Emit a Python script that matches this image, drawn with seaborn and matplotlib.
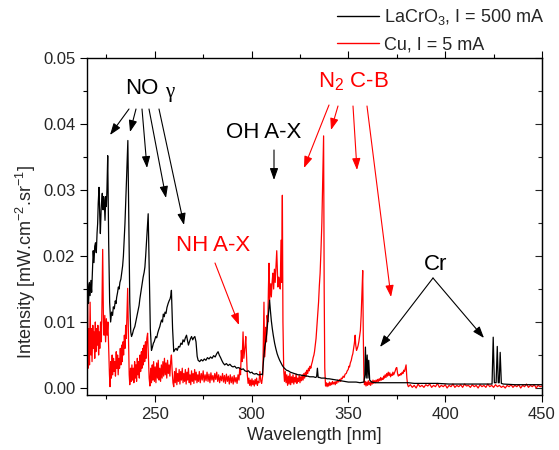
import matplotlib
matplotlib.use("Agg")
import matplotlib.pyplot as plt
from matplotlib.ticker import MultipleLocator, FormatStrFormatter
from matplotlib.lines import Line2D
import seaborn as sns
import pandas as pd

# ---------------- data (wavelength nm, intensity mW.cm-2.sr-1) ----------------
lacro3_points = [
(215.0,0.0135),(215.4,0.0158),(215.8,0.0128),(216.2,0.0160),(216.6,0.0140),(217.0,0.0163),(217.4,0.0145),(217.8,0.0175),
(218.2,0.0208),(218.6,0.0190),(219.0,0.0215),(219.4,0.0220),(219.8,0.0205),(220.2,0.0235),(220.5,0.0249),(220.8,0.0280),
(221.2,0.0304),(221.6,0.0260),(221.9,0.0234),(222.3,0.0270),(222.6,0.0285),(222.9,0.0295),(223.3,0.0270),(223.6,0.0290),
(223.9,0.0284),(224.3,0.0254),(224.7,0.0290),(225.0,0.0275),(225.3,0.0300),(225.7,0.0352),(226.2,0.0220),(226.7,0.0130),
(227.2,0.0100),(227.7,0.0115),(228.2,0.0110),(228.6,0.0123),(229.1,0.0120),(229.6,0.0132),(230.0,0.0128),(230.3,0.0137),
(230.8,0.0145),(231.2,0.0153),(231.6,0.0150),(232.0,0.0160),(232.5,0.0165),(232.9,0.0174),(233.4,0.0185),(233.8,0.0200),
(234.2,0.0225),(234.6,0.0249),(235.0,0.0280),(235.4,0.0315),(235.8,0.0350),(236.1,0.0375),(236.6,0.0250),(237.1,0.0130),
(237.6,0.0085),(238.0,0.0078),(238.5,0.0082),(239.0,0.0088),(239.3,0.0090),(239.7,0.0093),(240.2,0.0100),(240.6,0.0105),
(241.0,0.0112),(241.4,0.0118),(241.9,0.0125),(242.3,0.0135),(242.8,0.0145),(243.2,0.0153),(243.6,0.0160),(244.0,0.0168),
(244.5,0.0175),(244.9,0.0183),(245.3,0.0200),(245.8,0.0224),(246.2,0.0245),(246.6,0.0264),(247.2,0.0170),(247.7,0.0090),
(248.3,0.0057),(248.8,0.0062),(249.3,0.0068),(249.7,0.0070),(250.0,0.0073),(250.5,0.0078),(251.0,0.0076),(251.5,0.0083),
(252.0,0.0088),(252.6,0.0093),(253.0,0.0098),(253.5,0.0103),(254.0,0.0100),(254.4,0.0112),(254.9,0.0108),(255.3,0.0115),
(255.8,0.0113),(256.3,0.0122),(256.9,0.0128),(257.4,0.0132),(257.9,0.0135),(258.3,0.0140),(258.6,0.0148),(259.2,0.0090),
(259.8,0.0055),(260.4,0.0058),(261.0,0.0060),(261.6,0.0057),(262.3,0.0063),(262.9,0.0062),(263.5,0.0068),(264.1,0.0066),
(264.6,0.0073),(265.2,0.0070),(265.8,0.0076),(266.4,0.0080),(266.9,0.0072),(267.4,0.0065),(267.9,0.0070),(268.5,0.0075),
(269.0,0.0078),(269.6,0.0073),(270.1,0.0076),(270.7,0.0078),(271.3,0.0070),(271.9,0.0048),(272.4,0.0042),(273.2,0.0040),
(274.0,0.0043),(274.8,0.0041),(275.6,0.0044),(276.4,0.0042),(277.2,0.0046),(278.0,0.0044),(278.8,0.0047),(279.6,0.0045),
(280.4,0.0049),(281.2,0.0047),(282.0,0.0052),(282.7,0.0055),(283.3,0.0050),(284.0,0.0046),(284.6,0.0042),(285.3,0.0038),
(286.1,0.0035),(287.0,0.0037),(287.9,0.0034),(288.8,0.0036),(289.7,0.0033),(290.4,0.0032),(291.3,0.0033),(292.2,0.0030),
(293.1,0.0031),(293.9,0.0030),(294.8,0.0028),(295.7,0.0029),(296.6,0.0026),(297.5,0.0025),(298.4,0.0026),(299.3,0.0023),
(300.2,0.0024),(300.7,0.0022),(301.6,0.0021),(302.5,0.0022),(303.4,0.0020),(304.2,0.0020),(305.0,0.0021),(305.6,0.0020),
(306.0,0.0035),(306.4,0.0050),(306.8,0.0062),(307.3,0.0070),(307.8,0.0082),(308.3,0.0098),(308.8,0.0115),(309.3,0.0133),
(309.7,0.0118),(310.2,0.0102),(310.7,0.0090),(311.2,0.0080),(311.9,0.0068),(312.5,0.0060),(313.2,0.0052),(313.8,0.0047),
(314.5,0.0042),(315.2,0.0038),(315.9,0.0034),(316.6,0.0031),(317.3,0.0029),(318.0,0.0027),(319.0,0.0026),(320.0,0.0024),
(321.0,0.0023),(322.0,0.0022),(323.0,0.0021),(324.0,0.0020),(325.0,0.0020),(326.0,0.0019),(327.0,0.0019),(328.0,0.0018),
(329.0,0.0018),(330.0,0.0017),(331.0,0.0017),(332.0,0.0017),(333.0,0.0016),(333.6,0.0017),(334.0,0.0030),(334.4,0.0016),
(335.0,0.0016),(336.0,0.0015),(337.0,0.0015),(338.0,0.0015),(339.0,0.0014),(340.0,0.0014),(342.0,0.0013),(344.0,0.0012),
(346.0,0.0011),(348.0,0.0010),(350.0,0.0009),(352.0,0.0009),(354.0,0.0009),(356.0,0.0008),(358.0,0.0009),(358.5,0.0020),
(358.8,0.0062),(359.2,0.0015),(359.7,0.0050),(360.1,0.0015),(360.5,0.0042),(361.0,0.0012),(362.0,0.0009),(364.0,0.0008),
(367.0,0.0008),(370.0,0.0008),(374.0,0.0008),(378.0,0.0008),(381.0,0.0008),(384.0,0.0007),(390.0,0.0007),(396.0,0.0007),
(402.0,0.0006),(408.0,0.0006),(414.0,0.0006),(420.0,0.0006),(424.2,0.0006),(424.8,0.0077),(425.4,0.0008),(426.3,0.0008),
(426.9,0.0063),(427.4,0.0008),(427.9,0.0008),(428.4,0.0054),(429.0,0.0007),(430.0,0.0006),(436.0,0.0005),(442.0,0.0005),
(450.0,0.0005)]

cu_points = [
(215.0,0.0125),(215.3,0.0155),(215.6,0.0030),(216.0,0.0090),(216.3,0.0035),(216.6,0.0130),(217.0,0.0050),(217.3,0.0090),
(217.6,0.0040),(218.0,0.0095),(218.3,0.0060),(218.6,0.0085),(219.0,0.0045),(219.3,0.0100),(219.6,0.0055),(220.0,0.0090),
(220.3,0.0065),(220.6,0.0095),(221.0,0.0050),(221.3,0.0085),(221.6,0.0060),(222.0,0.0100),(222.4,0.0070),(222.7,0.0120),
(223.1,0.0210),(223.5,0.0100),(223.8,0.0080),(224.2,0.0110),(224.6,0.0070),(225.0,0.0105),(225.4,0.0080),(225.8,0.0100),
(226.2,0.0060),(226.6,0.0020),(226.9,0.0002),(227.3,0.0040),(227.6,0.0015),(228.0,0.0050),(228.3,0.0020),(228.7,0.0045),
(229.0,0.0025),(229.4,0.0040),(229.7,0.0018),(230.1,0.0055),(230.4,0.0030),(230.8,0.0050),(231.1,0.0020),(231.5,0.0045),
(231.8,0.0030),(232.2,0.0060),(232.5,0.0035),(232.9,0.0065),(233.2,0.0040),(233.6,0.0070),(233.9,0.0050),(234.3,0.0080),
(234.6,0.0060),(235.0,0.0095),(235.3,0.0075),(235.7,0.0120),(236.0,0.0151),(236.4,0.0080),(236.8,0.0020),(237.1,0.0005),
(237.5,0.0030),(237.8,0.0010),(238.2,0.0035),(238.5,0.0012),(238.9,0.0030),(239.2,0.0008),(239.6,0.0040),(239.9,0.0015),
(240.3,0.0035),(240.6,0.0010),(241.0,0.0045),(241.3,0.0020),(241.7,0.0040),(242.0,0.0015),(242.4,0.0050),(242.7,0.0025),
(243.1,0.0055),(243.4,0.0030),(243.8,0.0060),(244.1,0.0035),(244.5,0.0065),(244.8,0.0040),(245.2,0.0070),(245.5,0.0045),
(245.9,0.0075),(246.3,0.0083),(246.7,0.0050),(247.1,0.0015),(247.5,0.0003),(247.9,0.0030),(248.3,0.0008),(248.7,0.0035),
(249.0,0.0012),(249.4,0.0040),(249.8,0.0010),(250.2,0.0032),(250.6,0.0008),(251.0,0.0038),(251.4,0.0015),(251.8,0.0042),
(252.2,0.0012),(252.6,0.0030),(253.0,0.0010),(253.4,0.0035),(253.8,0.0015),(254.2,0.0040),(254.6,0.0018),(255.0,0.0045),
(255.4,0.0020),(255.8,0.0038),(256.2,0.0015),(256.6,0.0042),(257.0,0.0022),(257.4,0.0035),(257.8,0.0018),(258.2,0.0040),
(258.6,0.0050),(259.0,0.0025),(259.4,0.0008),(259.8,0.0002),(260.2,0.0025),(260.6,0.0008),(261.0,0.0030),(261.4,0.0005),
(261.8,0.0022),(262.2,0.0010),(262.6,0.0028),(263.0,0.0006),(263.4,0.0025),(263.8,0.0012),(264.2,0.0030),(264.6,0.0008),
(265.0,0.0022),(265.4,0.0010),(265.8,0.0028),(266.2,0.0006),(266.6,0.0024),(267.0,0.0012),(267.4,0.0030),(267.8,0.0008),
(268.2,0.0020),(268.6,0.0005),(269.0,0.0026),(269.4,0.0010),(269.8,0.0022),(270.2,0.0007),(270.6,0.0028),(271.0,0.0012),
(271.4,0.0024),(271.8,0.0008),(272.2,0.0020),(272.6,0.0010),(273.0,0.0025),(273.5,0.0008),(274.0,0.0022),(274.5,0.0012),
(275.0,0.0026),(275.5,0.0009),(276.0,0.0020),(276.5,0.0011),(277.0,0.0024),(277.5,0.0010),(278.0,0.0021),(278.5,0.0008),
(279.0,0.0023),(279.5,0.0012),(280.0,0.0019),(280.5,0.0009),(281.0,0.0022),(281.5,0.0013),(282.0,0.0024),(282.5,0.0010),
(283.0,0.0020),(283.5,0.0008),(284.0,0.0018),(284.5,0.0011),(285.0,0.0022),(285.5,0.0009),(286.0,0.0019),(286.5,0.0007),
(287.0,0.0021),(287.5,0.0010),(288.0,0.0018),(288.5,0.0006),(289.0,0.0020),(289.5,0.0008),(290.0,0.0017),(290.5,0.0006),
(291.0,0.0019),(291.5,0.0009),(292.0,0.0016),(292.5,0.0007),(293.0,0.0020),(293.5,0.0012),(293.9,0.0030),(294.3,0.0020),
(294.7,0.0057),(295.1,0.0040),(295.6,0.0085),(296.0,0.0045),(296.4,0.0057),(296.7,0.0065),(297.0,0.0078),(297.4,0.0050),
(297.8,0.0020),(298.2,0.0007),(298.6,0.0015),(299.0,0.0004),(299.4,0.0012),(299.8,0.0003),(300.2,0.0014),(300.6,0.0005),
(301.0,0.0011),(301.4,0.0003),(301.8,0.0013),(302.2,0.0006),(302.6,0.0015),(303.0,0.0004),(303.4,0.0010),(303.8,0.0008),
(304.3,0.0025),(304.8,0.0010),(305.2,0.0007),(305.8,0.0020),(306.4,0.0130),(306.7,0.0047),(307.0,0.0060),(307.3,0.0092),
(307.7,0.0070),(308.0,0.0110),(308.4,0.0100),(308.7,0.0150),(309.0,0.0189),(309.3,0.0133),(309.6,0.0145),(309.9,0.0158),
(310.2,0.0138),(310.6,0.0160),(311.0,0.0174),(311.4,0.0150),(311.8,0.0180),(312.2,0.0160),(312.6,0.0185),(313.0,0.0208),
(313.3,0.0180),(313.6,0.0153),(314.0,0.0168),(314.4,0.0160),(314.8,0.0150),(315.2,0.0224),(315.5,0.0160),(315.9,0.0292),
(316.2,0.0100),(316.6,0.0027),(317.0,0.0010),(317.4,0.0025),(317.8,0.0008),(318.2,0.0020),(318.6,0.0004),(319.0,0.0018),
(319.4,0.0006),(319.8,0.0022),(320.2,0.0005),(320.6,0.0017),(321.0,0.0008),(321.4,0.0020),(321.8,0.0006),(322.2,0.0016),
(322.6,0.0009),(323.0,0.0021),(323.4,0.0007),(323.8,0.0015),(324.2,0.0010),(324.6,0.0019),(325.0,0.0008),(325.4,0.0017),
(325.8,0.0011),(326.2,0.0020),(326.6,0.0012),(327.0,0.0022),(327.4,0.0015),(327.8,0.0024),(328.2,0.0018),(328.6,0.0027),
(329.0,0.0022),(329.4,0.0030),(329.8,0.0026),(330.2,0.0033),(330.6,0.0030),(331.0,0.0036),(331.4,0.0040),(331.8,0.0046),
(332.2,0.0050),(332.5,0.0055),(332.9,0.0065),(333.3,0.0075),(333.7,0.0092),(334.2,0.0113),(334.6,0.0130),(335.0,0.0155),
(335.4,0.0174),(335.8,0.0205),(336.3,0.0250),(336.7,0.0310),(337.0,0.0350),(337.2,0.0382),(337.5,0.0150),(337.8,0.0030),
(338.2,0.0003),(338.6,0.0008),(339.0,0.0002),(339.4,0.0007),(339.8,0.0003),(340.2,0.0009),(340.6,0.0004),(341.0,0.0008),
(341.4,0.0005),(341.8,0.0010),(342.2,0.0006),(342.8,0.0009),(343.2,0.0005),(343.6,0.0010),(344.0,0.0007),(344.5,0.0012),
(345.0,0.0009),(345.5,0.0013),(346.0,0.0010),(346.3,0.0015),(346.8,0.0014),(347.3,0.0018),(347.8,0.0016),(348.3,0.0021),
(348.9,0.0022),(349.4,0.0026),(349.9,0.0028),(350.3,0.0033),(350.6,0.0032),(351.0,0.0038),(351.5,0.0042),(351.9,0.0048),
(352.3,0.0052),(352.7,0.0060),(353.1,0.0068),(353.5,0.0080),(353.8,0.0065),(354.2,0.0057),(354.6,0.0060),(355.0,0.0064),
(355.4,0.0070),(355.8,0.0078),(356.2,0.0087),(356.6,0.0110),(356.9,0.0133),(357.2,0.0160),(357.4,0.0178),(357.7,0.0080),
(358.0,0.0020),(358.3,0.0005),(358.7,0.0010),(359.1,0.0003),(359.5,0.0009),(359.9,0.0004),(360.3,0.0011),(360.7,0.0005),
(361.1,0.0009),(361.5,0.0004),(361.9,0.0010),(362.3,0.0006),(362.7,0.0012),(363.1,0.0007),(363.5,0.0011),(363.9,0.0008),
(364.3,0.0012),(364.7,0.0009),(365.1,0.0013),(365.5,0.0010),(365.9,0.0014),(366.3,0.0011),(366.7,0.0016),(367.1,0.0012),
(367.5,0.0015),(367.9,0.0013),(368.3,0.0018),(368.6,0.0015),(369.0,0.0020),(369.4,0.0016),(369.8,0.0022),(370.2,0.0018),
(370.6,0.0024),(371.0,0.0019),(371.4,0.0023),(371.8,0.0017),(372.2,0.0021),(372.6,0.0019),(373.0,0.0024),(373.4,0.0020),
(373.8,0.0023),(374.2,0.0026),(374.6,0.0030),(375.0,0.0031),(375.4,0.0022),(375.8,0.0018),(376.2,0.0020),(376.6,0.0019),
(377.0,0.0022),(377.4,0.0020),(377.8,0.0024),(378.2,0.0022),(378.6,0.0027),(379.0,0.0025),(379.4,0.0030),(379.8,0.0035),
(380.2,0.0015),(380.6,0.0005),(381.0,0.0002),(382.0,0.0005),(383.0,0.0001),(384.0,0.0004),(385.0,0.0000),(386.0,0.0006),
(387.0,0.0002),(388.0,0.0004),(389.0,0.0001),(390.0,0.0005),(391.0,0.0003),(392.0,0.0006),(393.0,0.0001),(394.0,0.0004),
(395.0,0.0002),(396.0,0.0007),(397.0,0.0001),(398.0,0.0004),(399.0,0.0002),(400.0,0.0005),(401.0,0.0000),(402.0,0.0004),
(403.0,0.0002),(404.0,0.0006),(405.0,0.0001),(406.0,0.0004),(407.0,0.0002),(408.0,0.0005),(409.0,0.0001),(410.0,0.0006),
(411.0,0.0003),(412.0,0.0004),(413.0,0.0001),(414.0,0.0005),(415.0,0.0002),(416.0,0.0004),(417.0,0.0000),(418.0,0.0005),
(419.0,0.0002),(420.0,0.0004),(421.0,0.0001),(422.0,0.0006),(423.0,0.0002),(424.0,0.0004),(425.0,0.0001),(426.0,0.0005),
(427.0,0.0002),(428.0,0.0004),(429.0,0.0001),(430.0,0.0003),(431.0,0.0000),(432.0,0.0004),(433.0,0.0002),(434.0,0.0005),
(435.0,0.0001),(436.0,0.0004),(437.0,0.0002),(438.0,0.0005),(439.0,0.0000),(440.0,0.0004),(441.0,0.0002),(442.0,0.0006),
(443.0,0.0001),(444.0,0.0004),(445.0,0.0002),(446.0,0.0005),(447.0,0.0000),(448.0,0.0004),(449.0,0.0002),(450.0,0.0003)]

series_labels = ["LaCrO$_3$, I = 500 mA", "Cu, I = 5 mA"]
series_colors = ["#000000", "#ff0000"]
x_ticks = [250, 300, 350, 400, 450]
y_ticks = [0.00, 0.01, 0.02, 0.03, 0.04, 0.05]

# ---------------- figure ----------------
sns.set_style("ticks")
plt.rcParams["font.family"] = ["Liberation Sans", "DejaVu Sans"]
plt.rcParams["mathtext.fontset"] = "custom"
plt.rcParams["mathtext.rm"] = "Liberation Sans"
plt.rcParams["mathtext.it"] = "Liberation Sans:italic"

W, H = 559, 450
fig = plt.figure(figsize=(W / 100, H / 100), dpi=100)
ax = fig.add_axes([87 / W, 1 - 395 / H, (542 - 87) / W, (395 - 58) / H])

frames = []
for pts, lab in zip([lacro3_points, cu_points], series_labels):
    d = pd.DataFrame(pts, columns=["wl", "I"])
    d["series"] = lab
    frames.append(d)
df = pd.concat(frames, ignore_index=True)

sns.lineplot(data=df, x="wl", y="I", hue="series", hue_order=series_labels[::-1],
             palette=dict(zip(series_labels, series_colors)), sort=False,
             estimator=None, lw=0.9, ax=ax, legend=False)

ax.set_xlim(215, 450)
ax.set_ylim(-0.00106, 0.05)
ax.set_xticks(x_ticks)
ax.set_yticks(y_ticks)
ax.xaxis.set_minor_locator(MultipleLocator(25))
ax.yaxis.set_minor_locator(MultipleLocator(0.005))
ax.yaxis.set_major_formatter(FormatStrFormatter("%.2f"))
ax.tick_params(which="both", direction="out", top=True, right=False, labelsize=12, width=0.8, color="black")
ax.tick_params(which="major", length=5)
ax.tick_params(which="minor", length=3)
for s in ax.spines.values():
    s.set_linewidth(1.0)
    s.set_color("black")

sec = ax.secondary_yaxis("right")
sec.set_yticks(y_ticks)
sec.yaxis.set_minor_locator(MultipleLocator(0.005))
sec.tick_params(which="both", direction="in", labelright=False, width=0.8)
sec.tick_params(which="major", length=5)
sec.tick_params(which="minor", length=3)

ax.set_xlabel("Wavelength [nm]", fontsize=13)
ax.set_ylabel("Intensity [mW.cm$^{-2}$.sr$^{-1}$]", fontsize=13)
ax.xaxis.set_label_coords(0.5, -(427 - 395) / 337)
ax.yaxis.set_label_coords((38 - 87) / 455, (395 - 262) / 337)

handles = [Line2D([], [], color=c, lw=1.0) for c in series_colors]
fig.legend(handles, series_labels, loc="upper left", bbox_to_anchor=(337 / W, 1 - 7 / H),
           frameon=False, fontsize=13, handlelength=2.3, handletextpad=0.3,
           labelspacing=0.5, borderpad=0, borderaxespad=0)


def P(px, py):
    return (px / W, 1 - py / H)


texts = [
    ("NO", 142, 89, "black", 16, "Liberation Sans"),
    ("γ", 170, 93, "black", 15, "Liberation Serif"),
    ("OH A-X", 264, 133, "black", 16, "Liberation Sans"),
    ("NH A-X", 213, 246, "red", 16, "Liberation Sans"),
    ("N$_2$ C-B", 353, 82, "red", 16, "Liberation Sans"),
    ("Cr", 436, 265, "black", 16, "Liberation Sans"),
]
for t, px, py, c, fs, fam in texts:
    fig.text(*P(px, py), t, color=c, fontsize=fs, family=fam, ha="center", va="center")

arrows = [
    ((129, 109), (110, 135), "black"), ((136, 109), (130, 132), "black"),
    ((142, 109), (147, 168), "black"), ((149, 109), (166, 198), "black"),
    ((159, 109), (184, 225), "black"), ((274, 150), (274, 180), "black"),
    ((215, 263), (239, 325), "red"),
    ((329, 105), (304, 168), "red"), ((338, 106), (331, 130), "red"),
    ((353, 106), (357, 170), "red"), ((367, 106), (391, 297), "red"),
    ((433, 278), (380, 347), "black"), ((433, 278), (484, 338), "black"),
]
for tail, head, c in arrows:
    fig.add_artist(matplotlib.patches.FancyArrowPatch(
        P(*tail), P(*head), transform=fig.transFigure,
        arrowstyle="-|>,head_length=0.7,head_width=0.25", mutation_scale=10,
        color=c, lw=0.8, shrinkA=0, shrinkB=0))

fig.savefig("out.png", dpi=100)
